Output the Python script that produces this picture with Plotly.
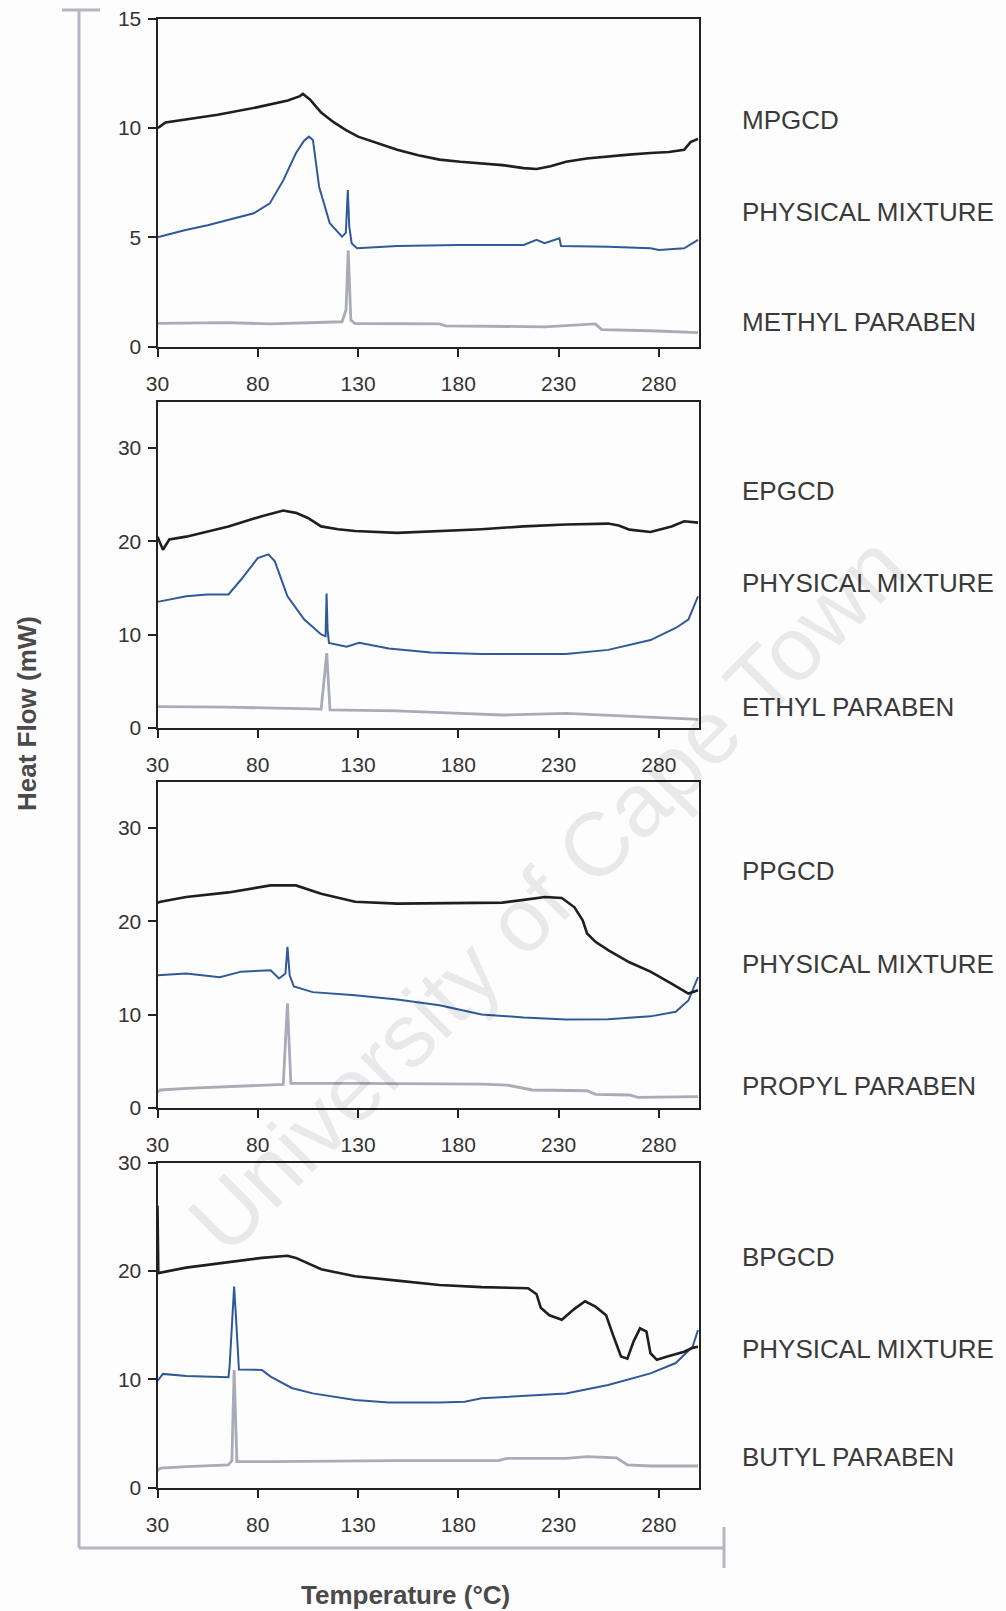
import plotly.graph_objects as go

# ---------------- data (temperature in °C, heat flow in mW) ----------------
x_ticks = [30, 80, 130, 180, 230, 280]

# Panel 1 : methyl paraben
mpgcd_t = [30, 31, 34, 60, 80, 95, 101, 102.5, 106, 111.6, 118, 124, 130, 140, 149.5, 160, 170.6, 181,
           191.6, 202, 212.6, 219, 226, 233.7, 244, 254.7, 265, 275.8, 285, 292.6, 295.8, 299.5]
mpgcd_v = [10.0, 10.05, 10.25, 10.6, 10.95, 11.25, 11.45, 11.55, 11.3, 10.7, 10.25, 9.9, 9.6, 9.3, 9.0,
           8.75, 8.55, 8.45, 8.38, 8.3, 8.16, 8.12, 8.25, 8.45, 8.6, 8.7, 8.78, 8.85, 8.9, 9.0, 9.35, 9.5]
mpmix_t = [30, 44, 55, 65, 78, 86, 92.7, 99, 103, 105.5, 107.5, 110.6, 115.9, 122, 123.9, 124.9, 125.6,
           126.8, 129.5, 149.5, 180, 212.6, 219, 223, 230.4, 231.2, 240, 254.7, 275.8, 280, 292.6, 299.5]
mpmix_v = [5.0, 5.33, 5.55, 5.8, 6.1, 6.55, 7.6, 8.84, 9.4, 9.6, 9.45, 7.3, 5.64, 5.03, 5.2, 7.16, 5.5,
           4.73, 4.5, 4.6, 4.65, 4.65, 4.88, 4.73, 4.95, 4.6, 4.6, 4.57, 4.5, 4.42, 4.5, 4.88]
mp_t = [30, 32.7, 65, 86, 122, 124, 125.1, 126.4, 128.5, 170.6, 173.7, 223, 229.5, 248.4, 251.5, 275.8, 299.5]
mp_v = [1.07, 1.07, 1.1, 1.04, 1.14, 1.68, 4.4, 1.22, 1.06, 1.04, 0.95, 0.91, 0.95, 1.04, 0.78, 0.73, 0.64]

# Panel 2 : ethyl paraben
epgcd_t = [30, 30.6, 32.7, 35.9, 44.3, 65.4, 82, 92.7, 99, 105, 111.6, 120, 128.5, 149.5, 170.6, 191.6,
           212.6, 233.7, 254.7, 260, 265.3, 275.8, 286.3, 292.6, 299.5]
epgcd_v = [20.5, 20.2, 19.1, 20.2, 20.5, 21.6, 22.7, 23.3, 23.05, 22.5, 21.6, 21.3, 21.1, 20.9, 21.1, 21.3,
           21.6, 21.8, 21.9, 21.7, 21.25, 21.0, 21.6, 22.15, 22.0]
epmix_t = [30, 44.3, 54.8, 65.4, 71.7, 80, 85.3, 88.5, 94.8, 103.2, 111.6, 113.8, 114.3, 114.8, 115.5,
           124.3, 130.6, 145.3, 166.3, 191.6, 233.7, 254.7, 275.8, 288.4, 294.7, 299.5]
epmix_v = [13.5, 14.1, 14.3, 14.3, 15.9, 18.2, 18.6, 17.85, 14.1, 11.6, 10.0, 9.8, 14.4, 10.5, 9.1,
           8.7, 9.1, 8.5, 8.06, 7.9, 7.9, 8.35, 9.4, 10.7, 11.6, 14.1]
ep_t = [30, 65, 111.6, 113.4, 114.4, 116, 149.5, 181, 202, 233.7, 254.7, 275.8, 299.5]
ep_v = [2.26, 2.2, 2.0, 5.8, 8.0, 1.9, 1.8, 1.54, 1.36, 1.54, 1.36, 1.18, 0.9]

# Panel 3 : propyl paraben
ppgcd_t = [30, 31.5, 44.3, 65.4, 86.4, 99, 111.6, 128.5, 149.5, 202, 212.6, 223.2, 231.6, 237.9, 242,
           244.2, 248.4, 254.7, 265.3, 275.8, 286.3, 294.7, 299.5]
ppgcd_v = [22.0, 22.1, 22.6, 23.1, 23.85, 23.85, 22.96, 22.1, 21.9, 22.0, 22.3, 22.6, 22.5, 21.5, 20.1,
           18.7, 17.8, 16.9, 15.6, 14.6, 13.3, 12.25, 12.6]
ppmix_t = [30, 44.3, 61.1, 71.7, 86.4, 90.6, 93.8, 94.8, 95.9, 98, 107.4, 128.5, 149.5, 170.6, 191.6,
           212.6, 233.7, 254.7, 275.8, 288.4, 294.7, 297.9, 299.5]
ppmix_v = [14.2, 14.4, 14.0, 14.6, 14.75, 13.86, 14.4, 17.25, 14.2, 13.0, 12.4, 12.07, 11.6, 11.0, 10.0,
           9.68, 9.46, 9.5, 9.8, 10.3, 11.5, 13.3, 14.0]
pp_t = [30, 31.5, 44.3, 86.4, 92.7, 94.8, 96.5, 128.5, 191.6, 204.2, 216.9, 244.2, 248.4, 265.3, 269.5, 299.5]
pp_v = [1.7, 1.9, 2.07, 2.43, 2.5, 11.2, 2.6, 2.6, 2.54, 2.43, 1.9, 1.82, 1.43, 1.36, 1.1, 1.18]

# Panel 4 : butyl paraben
bpgcd_t = [30, 30.4, 44.3, 65.4, 82, 94.8, 99, 111.6, 128.5, 149.5, 170.6, 191.6, 214.8, 219, 221.1,
           225.4, 231.6, 237.9, 243.2, 248.4, 253.7, 256.9, 261.1, 264.3, 267.4, 270.6, 273.8, 275.8,
           279, 284.2, 292.6, 296.8, 299.5]
bpgcd_v = [26.0, 19.8, 20.3, 20.8, 21.2, 21.4, 21.2, 20.15, 19.5, 19.1, 18.7, 18.5, 18.4, 17.85, 16.6,
           15.9, 15.5, 16.5, 17.2, 16.7, 15.9, 14.2, 12.1, 11.9, 13.5, 14.7, 14.4, 12.4,
           11.8, 12.1, 12.55, 12.9, 13.0]
bpmix_t = [30, 32.7, 44.3, 65.4, 66, 67.5, 68.2, 69.1, 70.6, 82, 86.4, 96.9, 107.4, 128.5, 145.3, 170.6,
           183.2, 191.6, 212.6, 233.7, 254.7, 275.8, 288.4, 296.8, 299.5]
bpmix_v = [9.85, 10.5, 10.3, 10.2, 11.35, 16.7, 18.55, 15.8, 10.9, 10.86, 10.25, 9.2, 8.7, 8.1, 7.85, 7.85,
           7.94, 8.25, 8.46, 8.7, 9.48, 10.55, 11.5, 13.0, 14.55]
bp_t = [30, 31.5, 44.3, 65.4, 67.1, 68.2, 69.6, 86.4, 149.5, 200, 204.2, 233.7, 244.2, 258.9, 264.3, 275.8, 299.5]
bp_v = [1.6, 1.8, 1.94, 2.1, 2.5, 10.86, 2.4, 2.4, 2.5, 2.5, 2.7, 2.7, 2.86, 2.75, 2.1, 2.0, 2.0]

labels = [
    ["MPGCD", "PHYSICAL MIXTURE", "METHYL PARABEN"],
    ["EPGCD", "PHYSICAL MIXTURE", "ETHYL PARABEN"],
    ["PPGCD", "PHYSICAL MIXTURE", "PROPYL PARABEN"],
    ["BPGCD", "PHYSICAL MIXTURE", "BUTYL PARABEN"],
]
y_ranges = [[0, 15], [0, 35], [0, 35], [0, 30]]
y_ticks = [[0, 5, 10, 15], [0, 10, 20, 30], [0, 10, 20, 30], [0, 10, 20, 30]]

panels = [
    [(mpgcd_t, mpgcd_v), (mpmix_t, mpmix_v), (mp_t, mp_v)],
    [(epgcd_t, epgcd_v), (epmix_t, epmix_v), (ep_t, ep_v)],
    [(ppgcd_t, ppgcd_v), (ppmix_t, ppmix_v), (pp_t, pp_v)],
    [(bpgcd_t, bpgcd_v), (bpmix_t, bpmix_v), (bp_t, bp_v)],
]

# ---------------- layout geometry ----------------
W, H = 1006, 1611
panel_px = [(18.5, 346.7), (401.5, 727.7), (781.5, 1107.7), (1162.5, 1487.7)]  # top, bottom
x_dom = [157.5 / W, 699 / W]
label_y_px = [[120, 212, 322], [491, 583, 707], [871, 964, 1086], [1257, 1349, 1457]]

line_styles = [
    dict(color="#1f1f1f", width=2.6),
    dict(color="#30599a", width=2.0),
    dict(color="#a9abb6", width=2.8),
]

fig = go.Figure()
FONT = "Liberation Sans, Arial, sans-serif"

for i, series in enumerate(panels):
    xa = "x" if i == 0 else f"x{i+1}"
    ya = "y" if i == 0 else f"y{i+1}"
    for j in [2, 1, 0]:
        t, v = series[j]
        fig.add_trace(go.Scatter(x=t, y=v, mode="lines", line=line_styles[j],
                                 xaxis=xa, yaxis=ya, showlegend=False, hoverinfo="skip"))
    top, bot = panel_px[i]
    dom = [1 - bot / H, 1 - top / H]
    axis_common = dict(showline=True, mirror=True, linecolor="#222222", linewidth=2,
                       ticks="outside", ticklen=8, tickwidth=2, tickcolor="#222222",
                       showgrid=False, zeroline=False, automargin=False,
                       tickfont=dict(family=FONT, size=21, color="#333333"))
    fig.layout[("xaxis" if i == 0 else f"xaxis{i+1}")] = go.layout.XAxis(
        domain=x_dom, range=[30, 300], tickvals=x_ticks, anchor=ya,
        ticklabelstandoff=9, **axis_common)
    fig.layout[("yaxis" if i == 0 else f"yaxis{i+1}")] = go.layout.YAxis(
        domain=dom, range=y_ranges[i], tickvals=y_ticks[i], anchor=xa,
        ticklabelstandoff=2, **axis_common)
    for k, lab in enumerate(labels[i]):
        fig.add_annotation(text=lab, xref="paper", yref="paper", x=740 / W,
                           y=1 - label_y_px[i][k] / H, xanchor="left", yanchor="middle",
                           showarrow=False, font=dict(family=FONT, size=26, color="#3a3a3a"))

# axis titles
fig.add_annotation(text="<b>Heat Flow (mW)</b>", xref="paper", yref="paper", x=27 / W, y=1 - 714 / H,
                   textangle=-90, showarrow=False, xanchor="center", yanchor="middle",
                   font=dict(family=FONT, size=26, color="#4a4a4a"))
fig.add_annotation(text="<b>Temperature (°C)</b>", xref="paper", yref="paper", x=405 / W, y=1 - 1595 / H,
                   showarrow=False, xanchor="center", yanchor="middle",
                   font=dict(family=FONT, size=26, color="#4a4a4a"))

# watermark
fig.add_annotation(text="University of Cape Town", xref="paper", yref="paper", x=547 / W, y=1 - 894 / H,
                   textangle=-45, showarrow=False, xanchor="center", yanchor="middle",
                   font=dict(family=FONT, size=90, color="rgba(0,0,0,0.08)"))

# outer bracket axis lines
bc = dict(color="#b4b6c0", width=3)
def seg(x0, y0, x1, y1):
    fig.add_shape(type="line", xref="paper", yref="paper", x0=x0 / W, y0=1 - y0 / H,
                  x1=x1 / W, y1=1 - y1 / H, line=bc)
seg(62, 10, 100, 10)
seg(79, 10, 79, 1548)
seg(79, 1548, 724, 1548)
seg(724, 1527, 724, 1568)

fig.update_layout(width=W, height=H, margin=dict(l=0, r=0, t=0, b=0, autoexpand=False),
                  paper_bgcolor="#fdfdfd", plot_bgcolor="rgba(0,0,0,0)")

fig.write_html("out.html", config={"displayModeBar": False},
               post_script="document.body.style.margin='0';document.body.style.overflow='hidden';")
